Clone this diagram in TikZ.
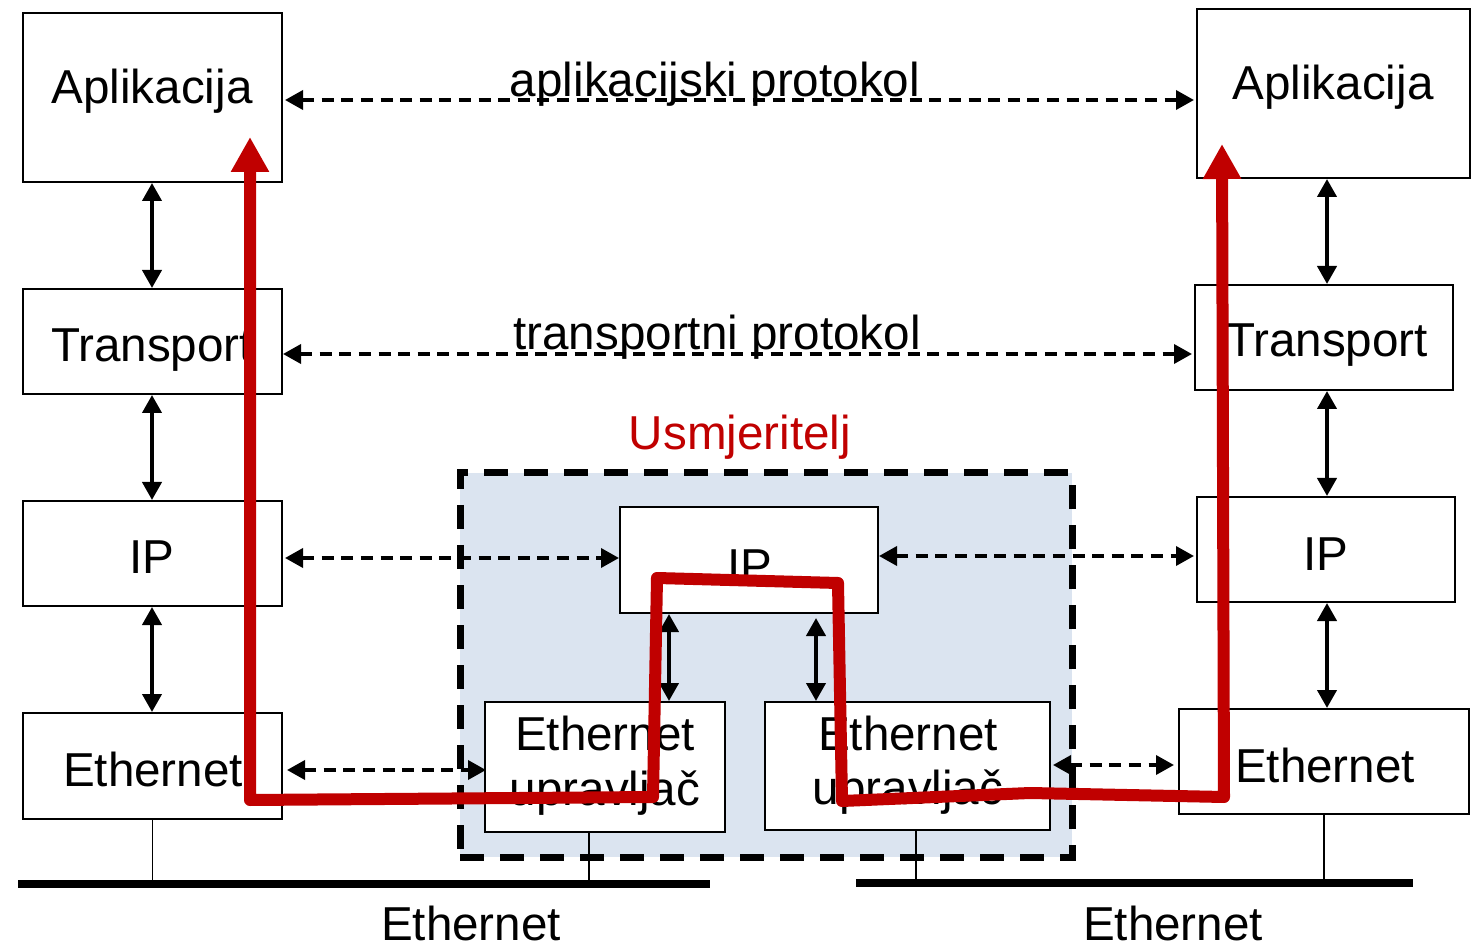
\documentclass[tikz,border=0pt]{standalone}
\usepackage{fontspec}
\setmainfont{Liberation Sans}
\usetikzlibrary{arrows.meta}
\definecolor{pathred}{RGB}{192,0,0}
\definecolor{routerfill}{RGB}{219,228,240}
\begin{document}
\begin{tikzpicture}[x=0.5pt,y=-0.5pt,
  box/.style={draw=black,line width=1pt,fill=white,inner sep=0pt},
  txt/.style={anchor=base,inner sep=0pt,font=\fontsize{23.8}{27.5}\selectfont},
  vlink/.style={line width=2pt,{Triangle[length=9pt,width=9.5pt]}-{Triangle[length=9pt,width=9.5pt]}},
  dlink/.style={line width=1.8pt,dash pattern=on 6pt off 3.8pt,{Triangle[length=9pt,width=9.5pt]}-{Triangle[length=9pt,width=9.5pt]}},
  drop/.style={line width=0.9pt},
  bus/.style={line width=4pt},
  redpath/.style={draw=pathred,line width=6pt,line join=round,{Triangle[length=17.5pt,width=18pt]}-{Triangle[length=17.5pt,width=18pt]}}
]
\useasboundingbox (0,0) rectangle (1474,952);

% router area
\node[draw=black,line width=3.5pt,dash pattern=on 12pt off 8pt,fill=routerfill,inner sep=0pt,
      minimum width=306pt,minimum height=192pt] (rbox) at (766,665) {};
\node[txt,text=pathred] (rlabel) at (740,450) {Usmjeritelj};

% left stack
\node[box,minimum width=129.5pt,minimum height=84.5pt] (la) at (152.5,97.5) {};
\node[box,minimum width=129.5pt,minimum height=52.5pt] (lt) at (152.5,341.5) {};
\node[box,minimum width=129.5pt,minimum height=52.5pt] (li) at (152.5,553.5) {};
\node[box,minimum width=129.5pt,minimum height=53pt] (le) at (152.5,766) {};
\node[txt] (la-t) at (152,104) {Aplikacija};
\node[txt] (lt-t) at (152,362) {Transport};
\node[txt] (li-t) at (152,574) {IP};
\node[txt] (le-t) at (153,786) {Ethernet};

% right stack
\node[box,minimum width=136.5pt,minimum height=84.5pt] (ra) at (1333.5,93.5) {};
\node[box,minimum width=129pt,minimum height=52.5pt] (rt) at (1324,337.5) {};
\node[box,minimum width=129pt,minimum height=52.5pt] (ri) at (1326,549.5) {};
\node[box,minimum width=145pt,minimum height=52.5pt] (re) at (1324,761.5) {};
\node[txt] (ra-t) at (1333,100) {Aplikacija};
\node[txt] (rt-t) at (1327,357) {Transport};
\node[txt] (ri-t) at (1326,570) {IP};
\node[txt] (re-t) at (1325,782) {Ethernet};

% router inner
\node[box,minimum width=129pt,minimum height=53pt] (rip) at (749,560) {};
\node[box,minimum width=120pt,minimum height=65pt] (ue1) at (605,767) {};
\node[box,minimum width=142.5pt,minimum height=64pt] (ue2) at (907.5,766) {};
\node[txt] (rip-t) at (750,582) {IP};
\node[txt] (ue1-a) at (605,750) {Ethernet};
\node[txt] (ue1-b) at (605,805) {upravljač};
\node[txt] (ue2-a) at (908,750) {Ethernet};
\node[txt] (ue2-b) at (908,804) {upravljač};

% helper coordinates
\coordinate (xl) at (152,0);
\coordinate (xr) at (1327,0);
\coordinate (xa) at (669,0);
\coordinate (xb) at (816,0);
\coordinate (ya) at (0,100);
\coordinate (yt) at (0,354);
\coordinate (yil) at (0,558);
\coordinate (yir) at (0,556);
\coordinate (yel) at (0,770);
\coordinate (yer) at (0,765);

% vertical links
\draw[vlink] (la.south -| xl) -- (lt.north -| xl);
\draw[vlink] (lt.south -| xl) -- (li.north -| xl);
\draw[vlink] (li.south -| xl) -- (le.north -| xl);
\draw[vlink] (ra.south -| xr) -- (rt.north -| xr);
\draw[vlink] (rt.south -| xr) -- (ri.north -| xr);
\draw[vlink] (ri.south -| xr) -- (re.north -| xr);
\draw[vlink] (rip.south -| xa) -- (ue1.north -| xa);
\draw[vlink] ([yshift=-2pt]rip.south -| xb) -- (ue2.north -| xb);

% dashed peer links
\draw[dlink] ([xshift=1pt]la.east |- ya) -- ([xshift=-1pt]ra.west |- ya);
\draw[dlink] (lt.east |- yt) -- ([xshift=-1pt]rt.west |- yt);
\draw[dlink] ([xshift=1pt]li.east |- yil) -- (rip.west |- yil);
\draw[dlink] (rip.east |- yir) -- ([xshift=-1pt]ri.west |- yir);
\draw[dlink] ([xshift=2pt]le.east |- yel) -- ([xshift=1pt]ue1.west |- yel);
\draw[dlink] ([xshift=1pt]ue2.east |- yer) -- ([xshift=-2pt]re.west |- yer);
\node[txt] (lab-a) at (715,97) {aplikacijski protokol};
\node[txt] (lab-t) at (717,350) {transportni protokol};

% buses
\coordinate (b1a) at (18,884);
\coordinate (b1b) at (710,884);
\coordinate (b2a) at (856,883);
\coordinate (b2b) at (1413,883);
\draw[bus] (b1a) -- (b1b);
\draw[bus] (b2a) -- (b2b);
\coordinate (d1) at (589,0);
\coordinate (d2) at (916,0);
\draw[drop] (le.south) -- (le.south |- b1a);
\draw[drop] (ue1.south -| d1) -- (b1a -| d1);
\draw[drop] (ue2.south -| d2) -- (b2a -| d2);
\draw[drop] (re.south) -- (re.south |- b2a);
\node[txt] (bl1) at (471,940) {Ethernet};
\node[txt] (bl2) at (1173,940) {Ethernet};

% red route
\coordinate (p0) at (250,137);
\coordinate (p1) at (250,800);
\coordinate (p2) at (653,797);
\coordinate (p3) at (657,578);
\coordinate (p4) at (838,583);
\coordinate (p5) at (842,801);
\coordinate (p6) at (1030,793);
\coordinate (p7) at (1224,797);
\coordinate (p8) at (1222,144);
\draw[redpath] (p0) -- (p1) -- (p2) -- (p3) -- (p4) -- (p5) -- (p6) -- (p7) -- (p8);
\end{tikzpicture}
\end{document}
